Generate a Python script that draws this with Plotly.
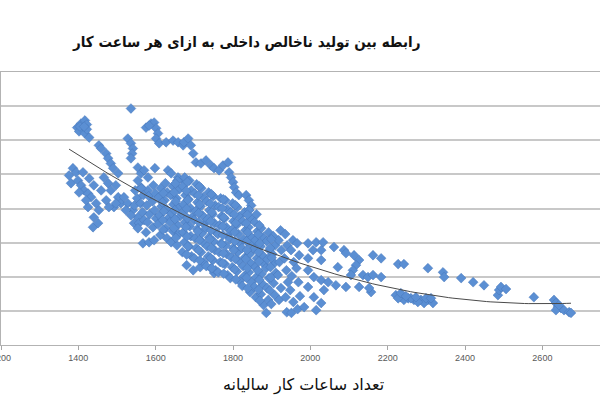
import plotly.graph_objects as go
import numpy as np

# ---- data (annual hours worked vs GDP per hour) ----
hours = [
    # top-left group
    1397, 1407, 1417, 1422, 1412, 1402, 1417, 1428, 1404, 1422, 1415,
    1453, 1459, 1536,
    1472, 1477, 1484, 1490, 1503,
    1528, 1536, 1541, 1539, 1536,
    1575, 1588, 1596, 1601, 1606, 1583,
    1601, 1609, 1627, 1645, 1658, 1671,
    # upper arc
    1673, 1684, 1691, 1697, 1704, 1717, 1730, 1743, 1751, 1764, 1774, 1787,
    1790, 1795, 1800, 1803, 1808, 1815, 1834, 1841, 1847, 1841,
    1598,
    1554, 1562, 1570, 1580, 1554, 1562, 1580,
    1632, 1640, 1658, 1671,
    # left cluster
    1386, 1376, 1381, 1399, 1394, 1407, 1415, 1402, 1425, 1433, 1446, 1425,
    1440, 1438, 1451, 1459, 1477, 1466, 1484, 1503, 1492, 1510, 1518, 1528,
    1541, 1554, 1544, 1420, 1453, 1472, 1440, 1428, 1412, 1497,
    1479, 1497, 1523, 1536,
    1557, 1554, 1567, 1583, 1596,
    1697, 1743, 1751, 1680, 1715,
    # main cloud
    1547, 1552, 1545,
    1563, 1568, 1561, 1566, 1570,
    1582, 1577, 1584, 1579, 1575,
    1594, 1599, 1592, 1597, 1601, 1593,
    1613, 1608, 1615, 1610, 1606, 1612,
    1625, 1630, 1623, 1628, 1632, 1626, 1629,
    1644, 1639, 1646, 1641, 1637, 1645, 1640,
    1656, 1661, 1654, 1659, 1663, 1657, 1660, 1655,
    1675, 1670, 1677, 1672, 1668, 1676, 1671, 1674, 1669,
    1687, 1692, 1685, 1690, 1694, 1688, 1691, 1686, 1693,
    1706, 1701, 1708, 1703, 1699, 1707, 1702, 1705, 1700,
    1718, 1723, 1716, 1721, 1725, 1719, 1722, 1717, 1724,
    1737, 1732, 1739, 1734, 1730, 1738, 1733, 1736, 1731,
    1749, 1754, 1747, 1752, 1756, 1750, 1753, 1748, 1755,
    1768, 1763, 1770, 1765, 1761, 1769, 1764, 1767, 1762,
    1780, 1785, 1778, 1783, 1787, 1781, 1784, 1779, 1786,
    1799, 1794, 1801, 1796, 1792, 1800, 1795, 1798, 1793,
    1811, 1816, 1809, 1814, 1818, 1812, 1815, 1810, 1817,
    1830, 1825, 1832, 1827, 1823, 1831, 1826, 1829, 1824,
    1842, 1847, 1840, 1845, 1849, 1843, 1846, 1841, 1848, 1844,
    1861, 1856, 1863, 1858, 1854, 1862, 1857, 1860, 1855, 1859,
    1873, 1878, 1871, 1876, 1880, 1874, 1877, 1872, 1879,
    1892, 1887, 1894, 1889, 1885, 1893, 1888, 1891, 1886,
    1904, 1909, 1902, 1907, 1911, 1905, 1908,
    1923, 1918, 1925, 1920, 1916, 1924, 1919,
    1935, 1940, 1933, 1938, 1942, 1936, 1939,
    1955, 1950, 1957, 1952, 1948, 1956, 1951,
    1966, 1971, 1964, 1969, 1973, 1967,
    # dense core, in-between points
    1620, 1617, 1621, 1618, 1619,
    1651, 1648, 1652, 1649, 1650, 1647, 1652,
    1682, 1679, 1683, 1680, 1682, 1678, 1681, 1683, 1680,
    1713, 1710, 1714, 1711, 1712, 1709, 1713, 1711, 1714,
    1744, 1741, 1745, 1742, 1743, 1740, 1744, 1742, 1745,
    1775, 1772, 1776, 1773, 1774, 1771, 1775, 1773, 1776,
    1806, 1803, 1807, 1804, 1805, 1802, 1806, 1804, 1807,
    1837, 1834, 1838, 1835, 1836, 1833, 1837, 1835, 1838,
    1868, 1865, 1869, 1866, 1867, 1864, 1868, 1866, 1869,
    1899, 1896, 1900, 1897, 1898, 1895, 1899,
    # around 2000
    1994, 2015, 2033, 2007, 2028, 1994, 2028, 1994, 2009, 2028, 2035, 1994,
    2009, 2028, 2015, 1984,
    # sparse 2050-2350
    2061, 2087, 2092, 2113, 2126, 2118, 2110, 2105, 2162, 2183, 2071, 2046,
    2066, 2092, 2126, 2136, 2149, 2162, 2183, 2157, 2152, 2227, 2242, 2304,
    2343, 2346,
    # 2200-2320 group
    2221, 2234, 2253, 2268, 2286, 2304, 2317, 2294, 2278, 2260, 2242, 2227,
    2234, 2299, 2312, 2247, 2273,
    # right tail
    2390, 2421, 2449, 2485, 2488, 2493, 2506, 2578, 2630, 2635, 2640, 2648,
    2635, 2656, 2669, 2674, 2643,
]

gdp = [
    63.7, 64.9, 65.8, 64.6, 63.2, 62.6, 62.0, 60.8, 64.0, 63.2, 64.0,
    58.5, 57.6, 69.3,
    56.1, 54.7, 53.2, 51.8, 50.3,
    60.5, 59.1, 57.6, 56.1, 54.7,
    63.7, 64.9, 65.2, 63.5, 62.0, 64.3,
    60.5, 59.1, 59.4, 59.9, 59.4, 58.5,
    59.4, 60.5, 58.5, 56.1, 53.5, 53.2, 54.1, 52.6, 51.8, 51.2, 52.6, 53.5,
    50.6, 49.1, 47.7, 46.2, 44.7, 43.9, 43.9, 42.4, 40.9, 39.5,
    51.8,
    52.0, 50.3, 51.2, 49.1, 48.2, 46.2, 45.3,
    51.2, 50.3, 49.1, 48.2,
    51.8, 49.7, 47.4, 48.2, 50.6, 46.8, 45.3, 44.7, 44.4, 43.3, 41.5, 40.4,
    37.4, 34.5, 35.7, 45.3, 47.4, 49.1, 45.3, 43.3, 40.4, 41.5, 43.3, 41.5,
    39.5, 37.4, 35.7, 42.4, 39.5, 42.4, 46.8, 48.8, 50.6, 46.8,
    40.4, 41.5, 39.5, 38.0,
    35.7, 34.2, 29.8, 30.1, 30.7,
    21.9, 22.5, 21.1, 23.4, 22.8,
    45.3, 43.0, 40.9,
    45.9, 43.9, 41.5, 38.9, 36.6,
    43.6, 40.9, 38.3, 36.0, 33.0,
    46.8, 44.4, 42.1, 39.5, 37.1, 34.5,
    45.9, 43.3, 40.6, 38.0, 35.4, 32.2,
    47.4, 44.7, 42.4, 39.8, 37.1, 34.2, 31.3,
    46.5, 43.9, 41.2, 38.6, 36.0, 33.3, 30.1,
    48.2, 45.6, 43.0, 40.4, 37.7, 35.1, 32.5, 29.2,
    49.1, 46.5, 43.9, 41.2, 38.6, 36.0, 33.0, 30.1, 27.2,
    48.2, 45.3, 42.7, 40.1, 37.4, 34.8, 31.9, 28.9, 26.0,
    47.1, 44.4, 41.8, 39.2, 36.6, 33.9, 31.3, 28.4, 25.4,
    45.9, 43.3, 40.6, 38.0, 35.4, 32.7, 30.1, 27.2, 24.3,
    44.7, 42.1, 39.5, 36.8, 34.2, 31.6, 28.9, 26.0, 23.1,
    43.6, 40.9, 38.3, 35.7, 33.0, 30.4, 27.8, 24.9, 21.9,
    43.0, 40.4, 37.7, 35.1, 32.5, 29.8, 27.2, 24.3, 21.3,
    42.4, 39.8, 37.1, 34.5, 31.9, 29.2, 26.6, 23.7, 20.5,
    41.5, 38.9, 36.3, 33.6, 31.0, 28.4, 25.7, 22.8, 19.6,
    40.4, 37.7, 35.1, 32.5, 29.8, 27.2, 24.6, 21.6, 18.7,
    38.9, 36.3, 33.6, 31.0, 28.4, 25.7, 23.1, 20.2, 17.3,
    39.5, 37.1, 34.5, 31.9, 29.2, 26.6, 24.0, 21.3, 18.4, 15.5,
    38.3, 36.0, 33.3, 30.7, 28.1, 25.4, 22.8, 19.9, 17.0, 14.0,
    34.2, 31.6, 28.9, 26.3, 23.7, 20.8, 17.8, 14.9, 11.7,
    33.0, 30.4, 27.8, 25.1, 22.5, 19.6, 16.7, 13.2, 9.4,
    31.9, 29.2, 26.6, 24.0, 21.1, 18.1, 14.6,
    33.6, 30.7, 27.8, 24.3, 20.5, 16.7, 13.2,
    32.5, 29.2, 25.4, 21.9, 18.4, 14.0, 9.6,
    30.7, 27.8, 24.3, 20.2, 16.1, 12.6, 9.4,
    29.8, 26.3, 22.5, 18.4, 14.3, 10.5,
    44.5, 41.8, 39.2, 36.6, 33.8,
    47.3, 44.7, 42.1, 39.5, 36.9, 34.2, 31.4,
    47.8, 45.2, 42.5, 39.9, 37.2, 34.6, 31.8, 28.9, 26.5,
    46.5, 43.9, 41.2, 38.6, 36.0, 33.3, 30.7, 27.8, 24.8,
    44.2, 41.5, 38.9, 36.3, 33.6, 31.0, 28.4, 25.5, 22.5,
    42.7, 40.1, 37.4, 34.8, 32.2, 29.5, 26.9, 24.0, 20.9,
    41.0, 38.3, 35.7, 33.1, 30.4, 27.8, 25.2, 22.2, 19.2,
    38.2, 35.7, 33.0, 30.4, 27.8, 25.2, 22.5, 19.7, 16.6,
    35.1, 32.4, 29.8, 27.2, 24.5, 21.8, 19.1, 16.2, 13.0,
    31.0, 28.4, 25.6, 22.8, 19.8, 16.0, 12.0,
    29.8, 30.1, 30.1, 27.8, 27.8, 25.4, 24.9, 21.9, 19.9, 19.0, 16.1, 17.0,
    14.0, 12.3, 10.2, 11.1,
    28.7, 27.8, 26.9, 26.3, 24.9, 23.4, 21.9, 20.5, 26.3, 25.4, 22.8, 18.4,
    17.5, 17.0, 17.0, 20.5, 19.9, 20.5, 19.9, 15.5, 16.7, 23.7, 23.7, 22.5,
    21.3, 19.9,
    14.6, 14.0, 13.7, 13.2, 13.2, 13.2, 12.3, 12.3, 12.6, 13.7, 13.2, 13.7,
    15.2, 13.7, 13.7, 14.3, 14.0,
    19.6, 18.4, 17.5, 14.6, 16.1, 17.0, 16.4, 14.0, 13.2, 12.3, 11.1, 10.8,
    10.2, 10.2, 9.6, 9.4, 11.7,
]

x_ticks = [1200, 1400, 1600, 1800, 2000, 2200, 2400, 2600]
x_tick_text = ["1200", "1400", "1600", "1800", "2000", "2200", "2400", "2600"]

title_text = "رابطه بین تولید ناخالص داخلی به ازای هر ساعت کار"
x_title_text = "تعداد ساعات کار سالیانه"

# polynomial (order 2) trendline fitted to the data, as in the original
coef = np.polyfit(hours, gdp, 2)
trend_x = np.linspace(min(hours), max(hours), 120)
trend_y = np.polyval(coef, trend_x)

fig = go.Figure()
fig.add_trace(go.Scatter(
    x=hours, y=gdp, mode="markers",
    marker=dict(symbol="diamond", size=7.5, color="#5B8FD3",
                line=dict(color="#4677BA", width=0.5)),
    hoverinfo="skip", showlegend=False,
))
fig.add_trace(go.Scatter(
    x=trend_x, y=trend_y, mode="lines",
    line=dict(color="#4a4a4a", width=1),
    hoverinfo="skip", showlegend=False,
))

fig.update_layout(
    width=600, height=400,
    margin=dict(l=1, r=0, t=72, b=55, autoexpand=False),
    paper_bgcolor="white", plot_bgcolor="white",
    showlegend=False,
    xaxis=dict(
        range=[1200, 2749], tickvals=x_ticks, ticktext=x_tick_text,
        ticks="outside", ticklen=4, tickcolor="#a6a6a6",
        tickfont=dict(family="Liberation Sans", size=9, color="#595959"),
        ticklabeloverflow="allow", automargin=False,
        showgrid=False, zeroline=False,
        showline=True, linecolor="#b3b3b3", linewidth=1, mirror=True,
    ),
    yaxis=dict(
        range=[0, 80], dtick=10, showticklabels=False, ticks="",
        automargin=False,
        showgrid=True, gridcolor="#c8c8c8", gridwidth=1.5,
        zeroline=False, showline=True, linecolor="#b3b3b3", linewidth=1,
    ),
    annotations=[
        dict(text="<b>" + title_text + "</b>", xref="paper", yref="paper",
             x=0.409, y=1.11,
             xanchor="center", yanchor="middle", showarrow=False,
             font=dict(family="DejaVu Sans Condensed, DejaVu Sans", size=15,
                       color="#111111")),
        dict(text=x_title_text, xref="paper", yref="paper", x=0.505, y=-0.147,
             xanchor="center", yanchor="middle", showarrow=False,
             font=dict(family="DejaVu Sans", size=16, color="#111111")),
    ],
)

fig.write_html("out.html",
               config={"displayModeBar": False},
               post_script="document.body.style.margin='0';")
